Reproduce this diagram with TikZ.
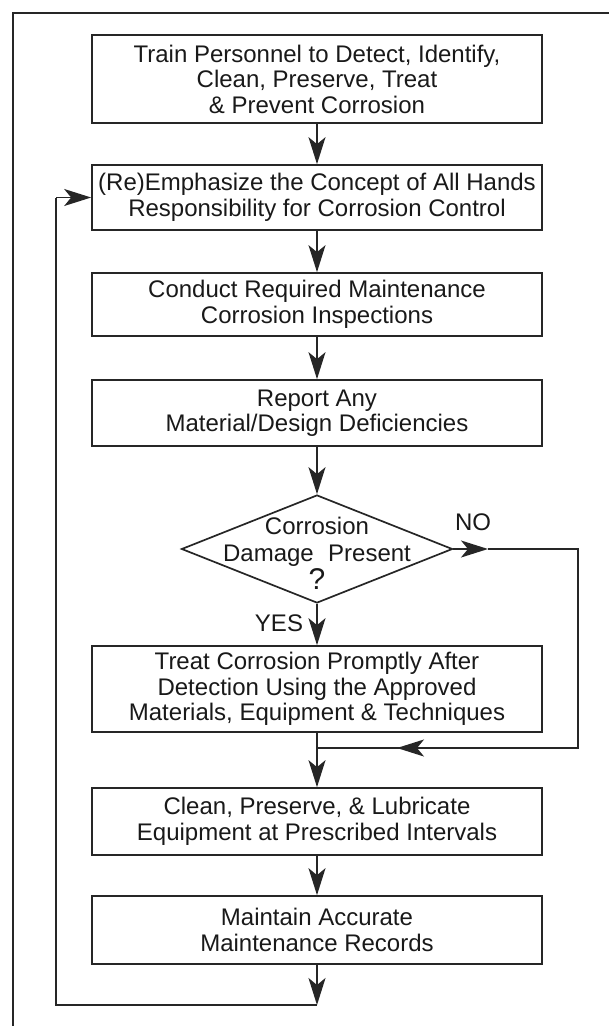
\documentclass[tikz,border=0pt]{standalone}
\usepackage{fontspec}
\setmainfont{Liberation Sans}
\usetikzlibrary{arrows.meta,shapes.geometric}
\begin{document}
\begin{tikzpicture}[x=1pt,y=-1pt,
  box/.style={draw=black!85, line width=1.7pt, minimum width=450pt, inner sep=0pt, align=center, font=\fontsize{24}{25.5}\selectfont, text=black!90},
  line/.style={draw=black!85, line width=1.7pt},
  arr/.style={line, -{Stealth[length=27pt,width=17pt,inset=7pt]}},
  lbl/.style={font=\fontsize{24}{27.5}\selectfont, text=black!90, inner sep=0pt, align=center}
]
\useasboundingbox (0,0) rectangle (609,1026);
% frame
\draw[line] (13,1026) -- (13,13) -- (609,13);
% boxes
\node[box, minimum height=88pt] (b1) at (317,79) {Train Personnel to Detect, Identify,\\Clean, Preserve, Treat\\\& Prevent Corrosion};
\node[box, minimum height=65pt] (b2) at (317,197.5) {(Re)Emphasize the Concept of All Hands\\Responsibility for Corrosion Control};
\node[box, minimum height=63pt] (b3) at (317,304.5) {Conduct Required Maintenance\\Corrosion Inspections};
\node[box, minimum height=66pt] (b4) at (317,413) {Report Any\\Material/Design Deficiencies};
\node[draw=black!85, line width=1.7pt, shape=diamond, minimum width=271pt, minimum height=108pt, inner sep=0pt] (dia) at (317,549) {};
\node[lbl] (diat) at (317,553) {Corrosion\\Damage\hspace{0.6em}Present\\{\fontsize{30}{26}\selectfont ?}};
\node[box, minimum height=86pt] (b5) at (317,689) {Treat Corrosion Promptly After\\Detection Using the Approved\\Materials, Equipment \& Techniques};
\node[box, minimum height=67pt] (b6) at (317,821.5) {Clean, Preserve, \& Lubricate\\Equipment at Prescribed Intervals};
\node[box, minimum height=68pt] (b7) at (317,930) {Maintain Accurate\\Maintenance Records};
% labels
\node[lbl] (yes) at (279,623) {YES};
\node[lbl] (no) at (473,522) {NO};
% coordinates
\coordinate (noarr) at (488,549);
\coordinate (nocorner) at (578,549);
\coordinate (retcorner) at (578,748);
\coordinate (retarr) at (397,748);
\coordinate (join) at (317,748);
\coordinate (loopend) at (317,1005);
\coordinate (loopbl) at (56,1005);
\coordinate (looptl) at (56,197.5);
% connectors
\draw[arr] (b1) -- (b2);
\draw[arr] (b2) -- (b3);
\draw[arr] (b3) -- (b4);
\draw[arr] (b4) -- (dia.north);
\draw[arr] (dia.south) -- (b5);
\draw[arr] (dia.east) -- (noarr);
\draw[line] (noarr) -- (nocorner) -- (retcorner) -- (retarr);
\draw[arr] (retcorner) -- (retarr);
\draw[line] (retarr) -- (join);
\draw[arr] (b5) -- (b6);
\draw[arr] (b6) -- (b7);
\draw[arr] (b7) -- (loopend);
\draw[line] (loopend) -- (loopbl) -- (looptl);
\draw[arr] (looptl) -- (b2);
\end{tikzpicture}
\end{document}
